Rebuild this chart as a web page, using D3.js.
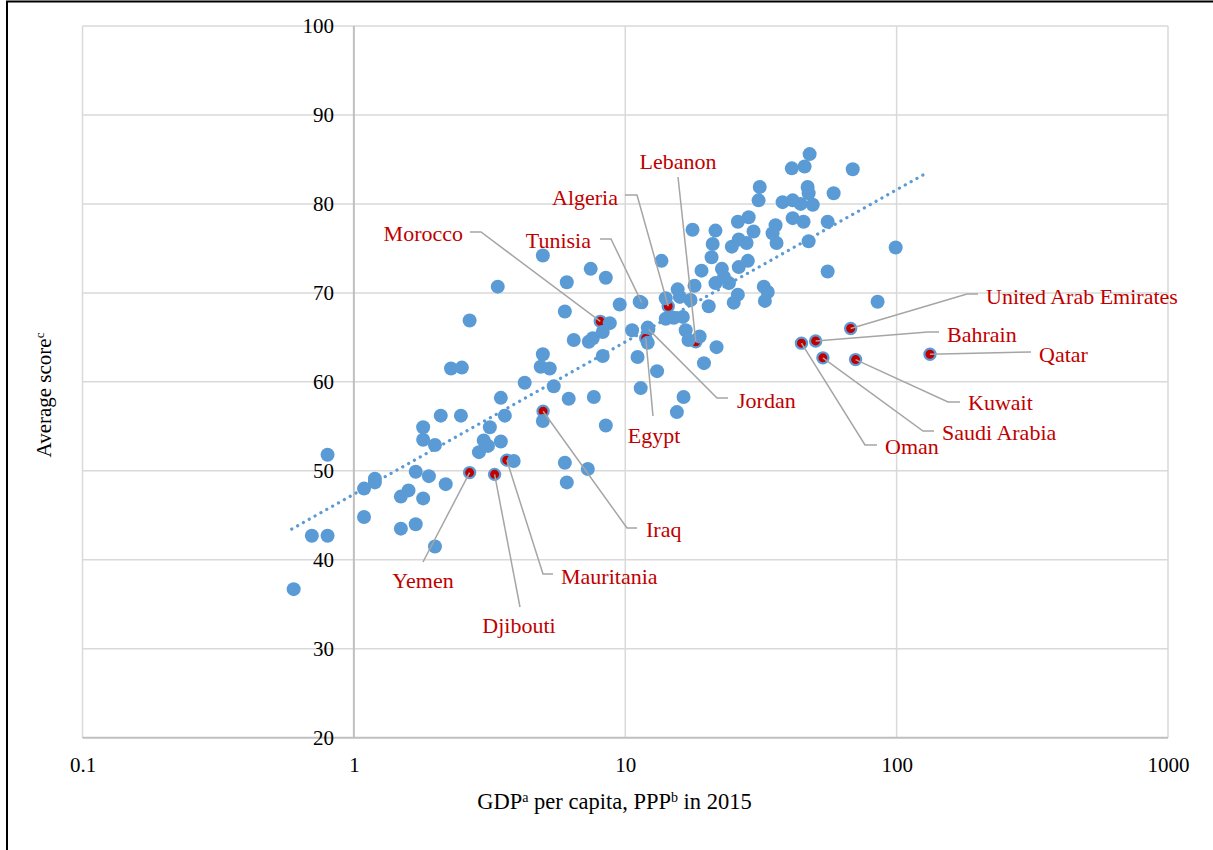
<!DOCTYPE html>
<html>
<head>
<meta charset="utf-8">
<script src="https://cdn.jsdelivr.net/npm/d3@7"></script>
<style>
  html, body { margin: 0; padding: 0; background: #fff; }
  svg { display: block; font-family: "Liberation Serif", "Times New Roman", serif; }
</style>
</head>
<body>
<svg id="chart" width="1213" height="850"></svg>
<script>
// ---------- DATA ----------
// GDP per capita, PPP (thousand $) for all countries (blue)
const gdp = [0.60,0.70,0.80,0.80,1.09,1.09,1.195,1.195,1.49,1.69,1.49,1.59,1.69,1.80,1.80,1.89,1.80,1.99,2.09,1.99,
  2.18,2.28,2.50,2.48,2.67,3.39,2.89,3.01,3.12,3.17,3.48,3.60,3.48,3.88,4.26,4.97,4.88,5.27,4.97,5.45,
  6.19,5.99,6.09,7.28,7.66,8.48,5.99,6.09,7.46,8.48,4.97,6.46,7.34,7.59,8.26,8.77,8.26,9.54,11.1,11.4,
  10.6,11.3,12.1,12.1,13.1,15.5,16.4,13.6,14.1,15.6,15.9,17.4,18.0,20.3,14.1,15.1,16.3,16.7,17.1,18.8,
  21.7,19.5,19.1,22.7,21.5,24.1,23.1,26.2,28.3,26.0,25.1,32.4,33.5,32.7,17.7,21.5,21.0,20.8,24.7,26.2,
  28.0,26.0,28.5,29.7,31.3,31.0,35.8,34.9,36.1,38.0,41.1,45.8,47.8,68.9,41.4,44.3,49.1,47.0,47.4,41.4,
  45.4,55.7,58.6,47.4,55.7,85.1,99.2];
// Average score for all countries (blue)
const score = [36.7,42.7,42.7,51.8,44.8,48.0,48.7,49.1,43.5,44.0,47.1,47.8,49.9,54.9,53.5,49.4,46.9,41.5,56.2,52.9,
  48.5,61.5,61.6,56.2,66.9,70.7,52.1,53.4,52.8,54.9,58.2,56.2,53.3,51.1,59.9,63.1,61.7,61.5,55.6,59.5,
  58.1,50.9,48.7,50.2,58.3,55.1,67.9,71.2,72.7,71.7,74.2,64.7,64.5,64.9,65.6,66.6,62.9,68.7,62.8,59.3,
  65.8,69.0,66.1,64.4,61.2,56.6,58.3,73.6,69.4,70.4,69.55,69.2,70.8,68.5,67.1,67.2,67.3,65.8,64.7,65.1,
  63.9,62.1,72.5,72.7,71.1,71.1,71.8,72.9,73.6,69.8,68.9,70.7,70.1,69.1,77.1,77.0,75.5,74.0,75.2,76.0,
  75.6,78.0,78.5,76.9,81.9,80.4,77.6,76.7,75.6,80.2,84.0,84.2,85.6,83.9,80.4,80.0,79.9,81.9,81.2,78.4,
  78.0,78.0,81.2,75.8,72.4,69.0,75.1];

// Arab countries (highlighted in red)
const arabNames = ["Morocco","Algeria","Tunisia","Lebanon","Jordan","Egypt","Iraq","Mauritania","Djibouti","Yemen",
  "United Arab Emirates","Bahrain","Oman","Saudi Arabia","Kuwait","Qatar"];
const arabGdp   = [8.09,14.4,11.5,18.2,12.2,11.9,4.98,3.66,3.30,2.67,67.7,50.3,44.6,53.5,70.6,132.7];
const arabScore = [66.8,68.5,68.9,64.5,65.9,64.9,56.7,51.2,49.6,49.8,66.0,64.6,64.35,62.7,62.5,63.1];

// Trend line end points (log fit)
const trendGdp   = [0.59, 131];
const trendScore = [43.45, 83.6];

// Axis ticks
const xTicks = [0.1, 1, 10, 100, 1000];
const yTicks = [20, 30, 40, 50, 60, 70, 80, 90, 100];

// ---------- LAYOUT (label placement in pixels) ----------
const labelLayout = {
  "Morocco":   {tx: 463, ty: 233, anchor: "end",    path: [[470,232],[481,232]]},
  "Algeria":   {tx: 618, ty: 197, anchor: "end",    path: [[625,195],[637,195]]},
  "Tunisia":   {tx: 591, ty: 240, anchor: "end",    path: [[600,239],[611,239]]},
  "Lebanon":   {tx: 678, ty: 161, anchor: "middle", path: [[678,177]]},
  "Jordan":    {tx: 737, ty: 400, anchor: "start",  path: [[728,398],[717,398]]},
  "Egypt":     {tx: 654, ty: 435, anchor: "middle", path: [[653,416]]},
  "Iraq":      {tx: 646, ty: 529, anchor: "start",  path: [[637,528],[627,528]]},
  "Mauritania":{tx: 561, ty: 576, anchor: "start",  path: [[553,574],[543,574]]},
  "Djibouti":  {tx: 519, ty: 625, anchor: "middle", path: [[520,607]]},
  "Yemen":     {tx: 423, ty: 580, anchor: "middle", path: [[423,562]]},
  "United Arab Emirates": {tx: 986, ty: 296, anchor: "start", path: [[978,294],[967,294]]},
  "Bahrain":   {tx: 947, ty: 334, anchor: "start",  path: [[939,332],[928,332]]},
  "Oman":      {tx: 885, ty: 446, anchor: "start",  path: [[877,445],[865,445]]},
  "Saudi Arabia": {tx: 942, ty: 432, anchor: "start", path: [[934,431],[923,431]]},
  "Kuwait":    {tx: 968, ty: 402, anchor: "start",  path: [[960,402],[948,402]]},
  "Qatar":     {tx: 1039, ty: 354, anchor: "start", path: [[1031,352]]}
};

// ---------- CHART ----------
const svg = d3.select("#chart");
const blue = "#5b9bd5", red = "#c00000";
const serif = "'Liberation Serif', 'Times New Roman', serif";

const x = d3.scaleLog().domain([0.1, 1000]).range([82.5, 1168]);
const y = d3.scaleLinear().domain([20, 100]).range([737.7, 26]);

svg.append("rect").attr("width", 1213).attr("height", 850).attr("fill", "#fff");

// frame (top & left visible)
svg.append("line").attr("x1", 6).attr("x2", 1213).attr("y1", 1.5).attr("y2", 1.5).attr("stroke", "#000").attr("stroke-width", 2);
svg.append("line").attr("x1", 7).attr("x2", 7).attr("y1", 1).attr("y2", 850).attr("stroke", "#000").attr("stroke-width", 2);

// gridlines
const grid = svg.append("g");
grid.selectAll("line.h").data(yTicks.filter(d => d !== 20)).join("line")
  .attr("x1", x(0.1)).attr("x2", x(1000))
  .attr("y1", d => y(d)).attr("y2", d => y(d))
  .attr("stroke", "#d9d9d9").attr("stroke-width", 1.5);
grid.selectAll("line.v").data(xTicks.filter(d => d !== 1)).join("line")
  .attr("x1", d => x(d)).attr("x2", d => x(d))
  .attr("y1", y(100)).attr("y2", y(20))
  .attr("stroke", "#d9d9d9").attr("stroke-width", 1.5);
grid.append("line").attr("x1", x(0.1)).attr("x2", x(1000)).attr("y1", y(20)).attr("y2", y(20))
  .attr("stroke", "#bfbfbf").attr("stroke-width", 2);
grid.append("line").attr("x1", x(1)).attr("x2", x(1)).attr("y1", y(100)).attr("y2", y(20))
  .attr("stroke", "#bfbfbf").attr("stroke-width", 2);

// axes (labels only)
const yAxis = svg.append("g").attr("transform", `translate(${x(1)},0)`)
  .call(d3.axisLeft(y).tickValues(yTicks).tickSize(0).tickPadding(20).tickFormat(d3.format("d")));
const xAxis = svg.append("g").attr("transform", `translate(0,${y(20)})`)
  .call(d3.axisBottom(x).tickValues(xTicks).tickSize(0).tickPadding(19).tickFormat(d => String(d)));
[yAxis, xAxis].forEach(a => {
  a.attr("font-family", serif).attr("font-size", 21);
  a.select(".domain").remove();
  a.selectAll("text").attr("fill", "#000");
});

// axis titles
const xt = svg.append("text").attr("x", 614.5).attr("y", 809).attr("text-anchor", "middle")
  .attr("font-family", serif).attr("font-size", 22.5).attr("fill", "#000");
xt.append("tspan").text("GDP");
xt.append("tspan").text("a").attr("font-size", 14).attr("dy", -7);
xt.append("tspan").text(" per capita, PPP").attr("dy", 7);
xt.append("tspan").text("b").attr("font-size", 14).attr("dy", -7);
xt.append("tspan").text(" in 2015").attr("dy", 7);

const yt = svg.append("text").attr("transform", "translate(51,395) rotate(-90)").attr("text-anchor", "middle")
  .attr("font-family", serif).attr("font-size", 21).attr("fill", "#000");
yt.append("tspan").text("Average score");
yt.append("tspan").text("c").attr("font-size", 13).attr("dy", -7);

// highlighted points (drawn under the blue series)
const arab = arabNames.map((n, i) => ({name: n, gdp: arabGdp[i], score: arabScore[i]}));
svg.append("g").selectAll("circle").data(arab).join("circle")
  .attr("cx", d => x(d.gdp)).attr("cy", d => y(d.score)).attr("r", 5.6)
  .attr("fill", red).attr("stroke", blue).attr("stroke-width", 2.2);

// blue points
const pts = gdp.map((g, i) => ({gdp: g, score: score[i]}));
svg.append("g").selectAll("circle").data(pts).join("circle")
  .attr("cx", d => x(d.gdp)).attr("cy", d => y(d.score)).attr("r", 7)
  .attr("fill", blue);

// trend line
const trend = trendGdp.map((g, i) => [x(g), y(trendScore[i])]);
svg.append("path").attr("d", d3.line()(trend)).attr("fill", "none")
  .attr("stroke", blue).attr("stroke-width", 3.2).attr("stroke-linecap", "round")
  .attr("stroke-dasharray", "0.1,6.6");

// leader lines and labels
const lab = svg.append("g").attr("font-family", serif);
arab.forEach(d => {
  const L = labelLayout[d.name];
  const p = L.path.concat([[x(d.gdp), y(d.score)]]);
  lab.append("path").attr("d", d3.line()(p)).attr("fill", "none")
    .attr("stroke", "#a5a5a5").attr("stroke-width", 1.5);
});
arab.forEach(d => {
  const L = labelLayout[d.name];
  lab.append("text").attr("x", L.tx).attr("y", L.ty).attr("dy", "0.35em")
    .attr("text-anchor", L.anchor).attr("font-size", 22).attr("fill", red).text(d.name);
});
</script>
</body>
</html>
